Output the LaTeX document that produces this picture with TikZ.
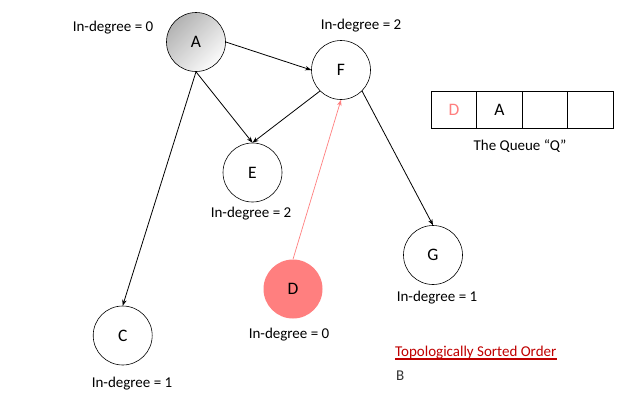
\documentclass[tikz,border=0pt]{standalone}
\usepackage{fontspec}
\setmainfont{Carlito}
\usetikzlibrary{arrows.meta}
\definecolor{salmon}{HTML}{FF7F7F}
\definecolor{darkred}{HTML}{C00000}
\begin{document}
\begin{tikzpicture}[x=1pt,y=-1pt,
  vertex/.style={circle,draw=black,line width=0.6pt,minimum size=59pt,inner sep=0pt,font=\fontsize{17.5}{20}\selectfont},
  lbl/.style={font=\fontsize{15}{18}\selectfont,inner sep=0pt},
  edge/.style={line width=0.8pt,-{Stealth[length=6pt,width=4.5pt]}},
  cell/.style={draw=black,line width=0.8pt,minimum width=45.5pt,minimum height=37pt,inner sep=0pt,font=\fontsize{17.5}{20}\selectfont}]
\useasboundingbox[fill=white] (0,0) rectangle (640,400);
% nodes
\node[vertex,top color=gray!60,bottom color=gray!3,shading angle=45] (A) at (196,42) {A};
\node[vertex] (F) at (341,70) {F};
\node[vertex] (E) at (252.5,172.5) {E};
\node[vertex] (G) at (433,255) {G};
\node[vertex,draw=none,fill=salmon] (D) at (293,289) {D};
\node[vertex] (C) at (122.7,335.5) {C};
% labels
\node[lbl] (lA) at (113,28) {In-degree = 0};
\node[lbl] (lF) at (361,26) {In-degree = 2};
\node[lbl] (lE) at (251,214) {In-degree = 2};
\node[lbl] (lG) at (437,298) {In-degree = 1};
\node[lbl] (lD) at (289,335) {In-degree = 0};
\node[lbl] (lC) at (132,384) {In-degree = 1};
% edges
\draw[edge] (A.east) -- (F.west);
\draw[edge] (A.south) -- (E.north);
\draw[edge] (A.south) -- (C.north);
\draw[edge] (F.south west) -- (E.north);
\draw[edge] (F.south east) -- (G.north);
\draw[edge,draw=salmon,line width=0.7pt,-{Stealth[length=6pt,width=4.5pt,fill=salmon]}] (D.north) -- (F.south);
% queue
\node[cell,text=salmon] (q1) at (454,109.5) {D};
\node[cell] (q2) at (499.5,109.5) {A};
\node[cell] (q3) at (545,109.5) {};
\node[cell] (q4) at (590.5,109.5) {};
\node[lbl] (ql) at (520,146) {The Queue “Q”};
% sorted order
\node[lbl,text=darkred,anchor=west] (ts) at (395,353) {Topologically Sorted Order};
\draw[darkred,line width=1.3pt] ([yshift=-2.2pt]ts.base west) -- ([yshift=-2.2pt]ts.base east);
\node[lbl,text=black!80,anchor=west] (b) at (396,376) {B};
\end{tikzpicture}
\end{document}
